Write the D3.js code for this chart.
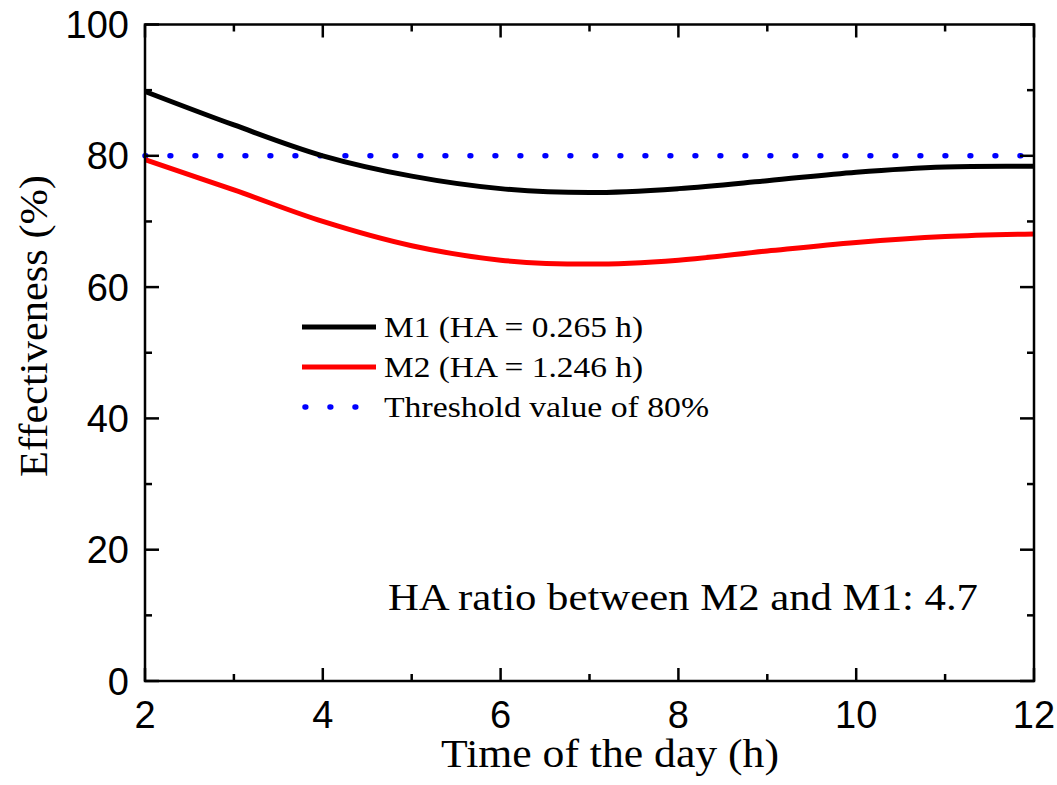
<!DOCTYPE html>
<html>
<head>
<meta charset="utf-8">
<script src="https://cdn.jsdelivr.net/npm/d3@7"></script>
<style>
  body { margin: 0; background: #fff; }
  svg { display: block; }
  .tick-label { font-family: "Liberation Sans", Arial, sans-serif; font-size: 38px; fill: #000; }
  .serif { font-family: "Liberation Serif", "Times New Roman", serif; fill: #000; }
</style>
</head>
<body>
<svg id="chart"></svg>
<script>
var width = 1057,
  height = 785,
  margin = { top: 24.5, right: 23, bottom: 104, left: 145 };

// time of the day (h)
var hours = [2, 3, 4, 5, 6, 7, 8, 9, 10, 11, 12];
// effectiveness (%)
var m1Values = [89.8, 84.7, 80.0, 76.9, 75.0, 74.4, 75.0, 76.2, 77.5, 78.3, 78.4];
var m2Values = [79.4, 74.8, 70.0, 66.3, 64.1, 63.5, 64.1, 65.5, 66.8, 67.7, 68.1];
var threshold = 80;

var xTicks = [2, 4, 6, 8, 10, 12];
var xMinor = [3, 5, 7, 9, 11];
var yTicks = [0, 20, 40, 60, 80, 100];
var yMinor = [10, 30, 50, 70, 90];

var legendLabels = ["M1 (HA = 0.265 h)", "M2 (HA = 1.246 h)", "Threshold value of 80%"];
var legendWidths = [259, 259, 325];
var note = "HA ratio between M2 and M1: 4.7";

var svg = d3.select("#chart").attr("width", width).attr("height", height);

var x = d3.scaleLinear().domain([2, 12]).range([margin.left, width - margin.right]);
var y = d3.scaleLinear().domain([0, 100]).range([height - margin.bottom, margin.top]);

var x0 = x.range()[0], x1 = x.range()[1], y0 = y.range()[0], y1 = y.range()[1];

var line = d3.line()
  .x(function(d) { return x(d[0]); })
  .y(function(d) { return y(d[1]); })
  .curve(d3.curveCatmullRom.alpha(0.5));

var plot = svg.append("g");

// threshold
plot.append("line")
  .attr("x1", x(2)).attr("x2", x(12))
  .attr("y1", y(threshold)).attr("y2", y(threshold))
  .attr("stroke", "#0000ff")
  .attr("stroke-width", 5.5)
  .attr("stroke-linecap", "round")
  .attr("stroke-dasharray", "0.8 24.2");

plot.append("path")
  .datum(d3.zip(hours, m2Values))
  .attr("d", line)
  .attr("fill", "none")
  .attr("stroke", "#ff0000")
  .attr("stroke-width", 5);

plot.append("path")
  .datum(d3.zip(hours, m1Values))
  .attr("d", line)
  .attr("fill", "none")
  .attr("stroke", "#000")
  .attr("stroke-width", 5);

// frame
svg.append("rect")
  .attr("x", x0).attr("y", y1)
  .attr("width", x1 - x0).attr("height", y0 - y1)
  .attr("fill", "none")
  .attr("stroke", "#000")
  .attr("stroke-width", 2.5);

var ticks = svg.append("g").attr("stroke", "#000").attr("stroke-width", 2.5);

function xTick(v, len) {
  ticks.append("line").attr("x1", x(v)).attr("x2", x(v)).attr("y1", y0).attr("y2", y0 - len);
  ticks.append("line").attr("x1", x(v)).attr("x2", x(v)).attr("y1", y1).attr("y2", y1 + len);
}
function yTick(v, len) {
  ticks.append("line").attr("y1", y(v)).attr("y2", y(v)).attr("x1", x0).attr("x2", x0 + len);
  ticks.append("line").attr("y1", y(v)).attr("y2", y(v)).attr("x1", x1).attr("x2", x1 - len);
}
xTicks.forEach(function(v) { xTick(v, 13); });
xMinor.forEach(function(v) { xTick(v, 7); });
yTicks.forEach(function(v) { yTick(v, 14); });
yMinor.forEach(function(v) { yTick(v, 7); });

svg.selectAll(".xl")
  .data(xTicks)
  .enter().append("text")
  .attr("class", "tick-label")
  .attr("x", function(d) { return x(d); })
  .attr("y", 728)
  .attr("text-anchor", "middle")
  .text(function(d) { return d; });

svg.selectAll(".yl")
  .data(yTicks)
  .enter().append("text")
  .attr("class", "tick-label")
  .attr("x", 129)
  .attr("y", function(d) { return y(d) + 13.5; })
  .attr("text-anchor", "end")
  .text(function(d) { return d; });

svg.append("text")
  .attr("class", "serif")
  .attr("x", 441)
  .attr("y", 767)
  .attr("textLength", 338)
  .attr("lengthAdjust", "spacingAndGlyphs")
  .style("font-size", "40px")
  .text("Time of the day (h)");

svg.append("text")
  .attr("class", "serif")
  .attr("transform", "translate(47,477) rotate(-90)")
  .attr("textLength", 302)
  .attr("lengthAdjust", "spacingAndGlyphs")
  .style("font-size", "40px")
  .text("Effectiveness (%)");

// legend
var legend = svg.append("g");
var legendStyles = [
  { color: "#000", dash: null },
  { color: "#ff0000", dash: null },
  { color: "#0000ff", dash: "0.8 24.2" }
];
legendLabels.forEach(function(label, i) {
  var ly = 327 + i * 40;
  var s = legendStyles[i];
  var l = legend.append("line")
    .attr("x1", i === 2 ? 305 : 302).attr("x2", i === 2 ? 356 : 376)
    .attr("y1", ly).attr("y2", ly)
    .attr("stroke", s.color)
    .attr("stroke-width", i === 2 ? 5.5 : 5);
  if (s.dash) l.attr("stroke-dasharray", s.dash).attr("stroke-linecap", "round");
  legend.append("text")
    .attr("class", "serif")
    .attr("x", 384)
    .attr("y", ly + 10)
    .attr("textLength", legendWidths[i])
    .attr("lengthAdjust", "spacingAndGlyphs")
    .style("font-size", "30px")
    .text(label);
});

svg.append("text")
  .attr("class", "serif")
  .attr("x", 388)
  .attr("y", 610)
  .attr("textLength", 590)
  .attr("lengthAdjust", "spacingAndGlyphs")
  .style("font-size", "38px")
  .text(note);
</script>
</body>
</html>
